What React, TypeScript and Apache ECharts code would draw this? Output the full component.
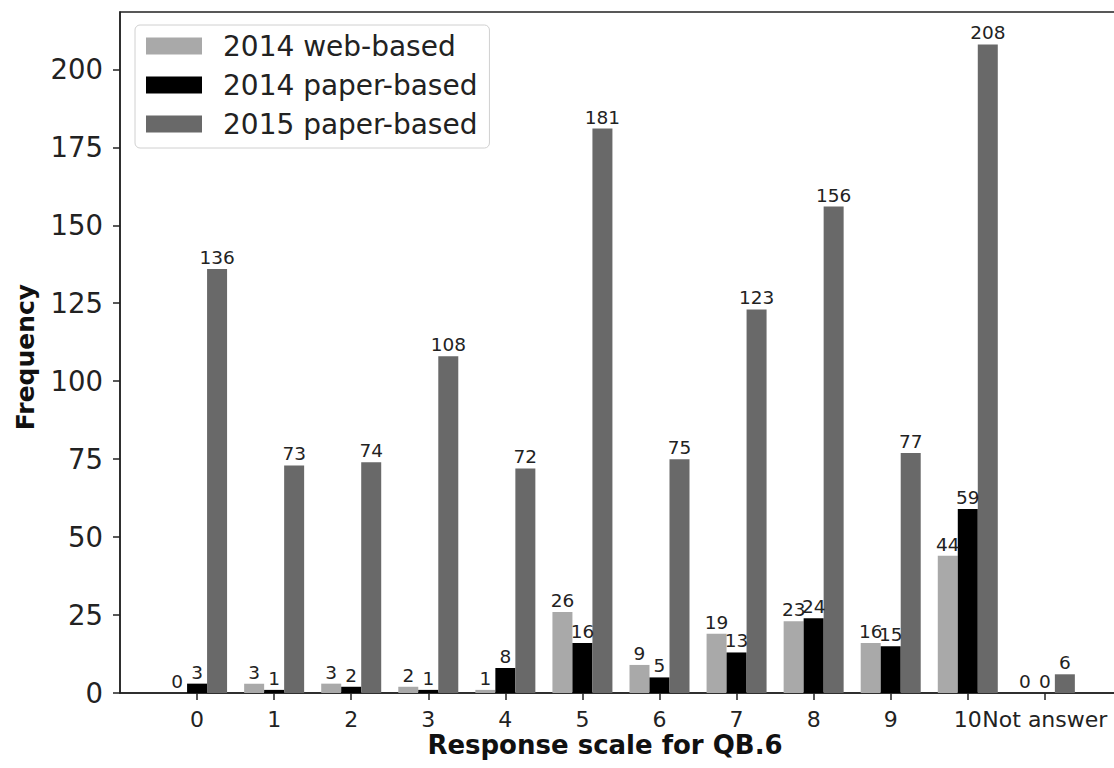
import React, { useEffect, useRef } from "react";
import * as echarts from "echarts";

const categories = ["0", "1", "2", "3", "4", "5", "6", "7", "8", "9", "10", "Not answer"];
const web2014 = [0, 3, 3, 2, 1, 26, 9, 19, 23, 16, 44, 0];
const paper2014 = [3, 1, 2, 1, 8, 16, 5, 13, 24, 15, 59, 0];
const paper2015 = [136, 73, 74, 108, 72, 181, 75, 123, 156, 77, 208, 6];
const yTicks = [0, 25, 50, 75, 100, 125, 150, 175, 200];

const FONT = "DejaVu Sans";

export default function App() {
  const ref = useRef<HTMLDivElement>(null);
  useEffect(() => {
    if (!ref.current) return;
    document.body.style.margin = "0";
    document.body.style.overflow = "hidden";
    const chart = echarts.init(ref.current, undefined, { renderer: "svg" });
    const cats = ["", ...categories, "", ""];
    const pad = (arr: number[]) => [null, ...arr, null, null];
    const labelCfg = {
      show: true,
      position: "top" as const,
      distance: 2,
      fontFamily: FONT,
      fontSize: 18.5,
      color: "#222",
    };
    const mk = (name: string, data: number[], color: string) => ({
      name,
      type: "bar" as const,
      data: pad(data),
      barWidth: 20,
      barGap: "0%",
      itemStyle: { color },
      label: labelCfg,
    });
    chart.setOption({
      animation: false,
      backgroundColor: "#fff",
      grid: {
        left: 120,
        top: 12,
        height: 681,
        width: 1079,
        outerBoundsMode: "none",
        containLabel: false,
        show: true,
        borderColor: "#222",
        borderWidth: 1.5,
        backgroundColor: "transparent",
      },
      legend: {
        left: 135,
        top: 25,
        orient: "vertical",
        backgroundColor: "#fff",
        borderColor: "#d0d0d0",
        borderWidth: 1,
        borderRadius: 5,
        padding: [7, 12, 10, 11],
        itemWidth: 56,
        itemHeight: 17,
        itemGap: 11,
        icon: "rect",
        textStyle: {
          fontFamily: FONT,
          fontSize: 28,
          color: "#222",
          padding: [0, 0, 0, 16],
        },
        data: ["2014 web-based", "2014 paper-based", "2015 paper-based"],
      },
      xAxis: {
        type: "category",
        data: cats,
        boundaryGap: false,
        axisLine: { lineStyle: { color: "#222", width: 1.5 } },
        axisTick: {
          length: 7,
          lineStyle: { color: "#222", width: 1.5 },
          interval: (_i: number, v: string) => v !== "",
        },
        axisLabel: {
          interval: 0,
          fontFamily: FONT,
          fontSize: 22,
          color: "#222",
          margin: 15,
        },
        splitLine: { show: false },
      },
      yAxis: {
        type: "value",
        min: 0,
        max: 218.4,
        interval: 25,
        axisLine: { show: true, lineStyle: { color: "#222", width: 1.5 } },
        axisTick: { show: true, length: 7, lineStyle: { color: "#222", width: 1.5 } },
        axisLabel: {
          fontFamily: FONT,
          fontSize: 27.5,
          color: "#222",
          margin: 17,
          showMaxLabel: false,
          formatter: (v: number) => (yTicks.includes(v) ? String(v) : ""),
        },
        splitLine: { show: false },
      },
      graphic: [
        {
          type: "text",
          x: 605,
          y: 745,
          style: {
            text: "Response scale for QB.6",
            fontFamily: FONT,
            fontWeight: "bold",
            fontSize: 26,
            fill: "#111",
            align: "center",
            verticalAlign: "middle",
          },
        },
        {
          type: "text",
          x: 25,
          y: 357,
          rotation: Math.PI / 2,
          style: {
            text: "Frequency",
            fontFamily: FONT,
            fontWeight: "bold",
            fontSize: 25,
            fill: "#111",
            align: "center",
            verticalAlign: "middle",
          },
        },
      ],
      series: [
        mk("2014 web-based", web2014, "#a9a9a9"),
        mk("2014 paper-based", paper2014, "#000000"),
        mk("2015 paper-based", paper2015, "#696969"),
      ],
    });
    return () => chart.dispose();
  }, []);
  return (
    <div
      ref={ref}
      style={{ position: "absolute", left: 0, top: 0, width: 1114, height: 768 }}
    />
  );
}
